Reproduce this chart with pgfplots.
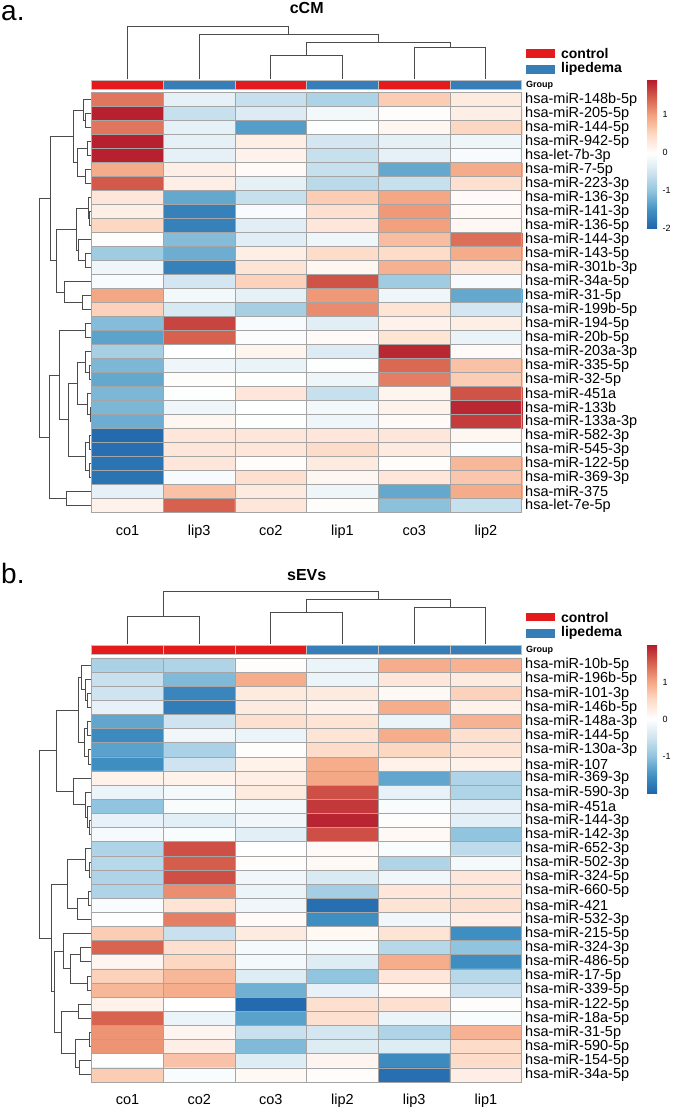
\documentclass[border=0pt]{standalone}
\usepackage{pgfplots}
\usepackage{pgfplotstable}
\pgfplotsset{compat=1.18}
\usepackage{fontspec}
\setmainfont{Liberation Sans}

\definecolor{ctrl}{RGB}{228,26,28}
\definecolor{lipe}{RGB}{55,126,184}
\definecolor{dendro}{RGB}{75,75,75}
\definecolor{cellline}{RGB}{165,165,165}

\pgfplotsset{
  colormap={rdbu}{rgb255=(33,102,172) rgb255=(67,147,195) rgb255=(146,197,222)
    rgb255=(209,229,240) rgb255=(255,255,255) rgb255=(253,219,199)
    rgb255=(244,165,130) rgb255=(214,96,77) rgb255=(178,24,43)},
  heat/.style={
    scale only axis, width=430pt,
    xmin=0, xmax=6, ymin=0, ymax=30, y dir=reverse,
    clip=false, axis on top,
    colormap name=rdbu,
    xtick={0.5,1.5,...,5.5}, ytick={0.5,1.5,...,29.5},
    minor xtick={0,1,...,6}, minor ytick={0,1,...,30},
    grid=minor, minor grid style={cellline, line width=0.7pt},
    axis line style={cellline, line width=0.7pt},
    major tick length=0pt, minor tick length=0pt,
    yticklabel pos=right,
    ticklabel style={font=\fontsize{14.5}{14.5}\selectfont},
    xticklabel style={anchor=base, yshift=-22.5pt},
    title style={font=\bfseries\fontsize{16}{16}\selectfont, at={(0.5,1)}, anchor=base},
    colorbar,
  },
  cbar/.style={
    at={(parent axis.north east)}, anchor=north west,
    scale only axis, width=10pt, height=149pt,
    axis line style={draw=none}, major tick length=0pt,
    yticklabel style={font=\fontsize{9}{9}\selectfont, xshift=2pt},
  },
  dend/.style={draw=dendro, line width=1pt, forget plot},
  grp/.style={draw=black!25, line width=0.5pt, forget plot},
}

% cCM: columns co1 lip3 co2 lip1 co3 lip2, rows top to bottom
\pgfplotstableread[row sep=\\]{
x y c \\
0.5 0.5 1.30 \\ 1.5 0.5 -0.30 \\ 2.5 0.5 -0.60 \\ 3.5 0.5 -0.80 \\ 4.5 0.5 0.60 \\ 5.5 0.5 0.25 \\
0.5 1.5 1.90 \\ 1.5 1.5 -0.60 \\ 2.5 1.5 -0.40 \\ 3.5 1.5 -0.15 \\ 4.5 1.5 0.00 \\ 5.5 1.5 0.20 \\
0.5 2.5 1.30 \\ 1.5 2.5 -0.30 \\ 2.5 2.5 -1.40 \\ 3.5 2.5 -0.05 \\ 4.5 2.5 0.10 \\ 5.5 2.5 0.50 \\
0.5 3.5 1.90 \\ 1.5 3.5 -0.30 \\ 2.5 3.5 0.20 \\ 3.5 3.5 -0.50 \\ 4.5 3.5 -0.30 \\ 5.5 3.5 -0.20 \\
0.5 4.5 1.90 \\ 1.5 4.5 -0.30 \\ 2.5 4.5 0.15 \\ 3.5 4.5 -0.60 \\ 4.5 4.5 -0.30 \\ 5.5 4.5 -0.10 \\
0.5 5.5 0.90 \\ 1.5 5.5 0.20 \\ 2.5 5.5 0.05 \\ 3.5 5.5 -0.60 \\ 4.5 5.5 -1.30 \\ 5.5 5.5 0.90 \\
0.5 6.5 1.50 \\ 1.5 6.5 0.20 \\ 2.5 6.5 -0.30 \\ 3.5 6.5 -0.70 \\ 4.5 6.5 -0.60 \\ 5.5 6.5 0.40 \\
0.5 7.5 0.30 \\ 1.5 7.5 -1.30 \\ 2.5 7.5 -0.60 \\ 3.5 7.5 0.60 \\ 4.5 7.5 0.95 \\ 5.5 7.5 0.05 \\
0.5 8.5 0.20 \\ 1.5 8.5 -1.70 \\ 2.5 8.5 -0.10 \\ 3.5 8.5 0.40 \\ 4.5 8.5 1.05 \\ 5.5 8.5 0.05 \\
0.5 9.5 0.50 \\ 1.5 9.5 -1.70 \\ 2.5 9.5 -0.35 \\ 3.5 9.5 0.30 \\ 4.5 9.5 1.00 \\ 5.5 9.5 0.08 \\
0.5 10.5 0.00 \\ 1.5 10.5 -1.10 \\ 2.5 10.5 -0.35 \\ 3.5 10.5 -0.20 \\ 4.5 10.5 0.75 \\ 5.5 10.5 1.35 \\
0.5 11.5 -0.90 \\ 1.5 11.5 -1.25 \\ 2.5 11.5 0.20 \\ 3.5 11.5 0.45 \\ 4.5 11.5 0.45 \\ 5.5 11.5 0.90 \\
0.5 12.5 -0.20 \\ 1.5 12.5 -1.70 \\ 2.5 12.5 0.35 \\ 3.5 12.5 0.10 \\ 4.5 12.5 0.85 \\ 5.5 12.5 0.35 \\
0.5 13.5 -0.10 \\ 1.5 13.5 -0.50 \\ 2.5 13.5 0.55 \\ 3.5 13.5 1.55 \\ 4.5 13.5 -0.90 \\ 5.5 13.5 -0.10 \\
0.5 14.5 0.95 \\ 1.5 14.5 -0.15 \\ 2.5 14.5 -0.30 \\ 3.5 14.5 1.05 \\ 4.5 14.5 -0.20 \\ 5.5 14.5 -1.30 \\
0.5 15.5 0.55 \\ 1.5 15.5 -0.45 \\ 2.5 15.5 -0.85 \\ 3.5 15.5 1.15 \\ 4.5 15.5 0.35 \\ 5.5 15.5 -0.50 \\
0.5 16.5 -1.10 \\ 1.5 16.5 1.65 \\ 2.5 16.5 -0.10 \\ 3.5 16.5 -0.35 \\ 4.5 16.5 0.15 \\ 5.5 16.5 0.20 \\
0.5 17.5 -1.35 \\ 1.5 17.5 1.45 \\ 2.5 17.5 -0.08 \\ 3.5 17.5 0.05 \\ 4.5 17.5 0.35 \\ 5.5 17.5 -0.25 \\
0.5 18.5 -0.85 \\ 1.5 18.5 -0.03 \\ 2.5 18.5 0.12 \\ 3.5 18.5 -0.40 \\ 4.5 18.5 1.85 \\ 5.5 18.5 0.05 \\
0.5 19.5 -1.15 \\ 1.5 19.5 -0.20 \\ 2.5 19.5 -0.25 \\ 3.5 19.5 -0.05 \\ 4.5 19.5 1.40 \\ 5.5 19.5 0.70 \\
0.5 20.5 -1.30 \\ 1.5 20.5 0.00 \\ 2.5 20.5 -0.05 \\ 3.5 20.5 -0.20 \\ 4.5 20.5 1.25 \\ 5.5 20.5 0.60 \\
0.5 21.5 -1.15 \\ 1.5 21.5 -0.05 \\ 2.5 21.5 0.30 \\ 3.5 21.5 -0.60 \\ 4.5 21.5 0.12 \\ 5.5 21.5 1.55 \\
0.5 22.5 -1.15 \\ 1.5 22.5 -0.20 \\ 2.5 22.5 -0.03 \\ 3.5 22.5 -0.15 \\ 4.5 22.5 0.15 \\ 5.5 22.5 1.85 \\
0.5 23.5 -1.25 \\ 1.5 23.5 0.10 \\ 2.5 23.5 -0.05 \\ 3.5 23.5 -0.20 \\ 4.5 23.5 0.05 \\ 5.5 23.5 1.70 \\
0.5 24.5 -1.95 \\ 1.5 24.5 0.30 \\ 2.5 24.5 0.30 \\ 3.5 24.5 0.30 \\ 4.5 24.5 0.30 \\ 5.5 24.5 0.10 \\
0.5 25.5 -1.90 \\ 1.5 25.5 0.30 \\ 2.5 25.5 0.30 \\ 3.5 25.5 0.45 \\ 4.5 25.5 0.25 \\ 5.5 25.5 -0.08 \\
0.5 26.5 -1.85 \\ 1.5 26.5 0.30 \\ 2.5 26.5 0.02 \\ 3.5 26.5 0.25 \\ 4.5 26.5 0.02 \\ 5.5 26.5 0.80 \\
0.5 27.5 -1.85 \\ 1.5 27.5 -0.10 \\ 2.5 27.5 0.40 \\ 3.5 27.5 0.10 \\ 4.5 27.5 0.30 \\ 5.5 27.5 0.65 \\
0.5 28.5 -0.30 \\ 1.5 28.5 0.70 \\ 2.5 28.5 0.25 \\ 3.5 28.5 -0.20 \\ 4.5 28.5 -1.30 \\ 5.5 28.5 0.90 \\
0.5 29.5 0.15 \\ 1.5 29.5 1.45 \\ 2.5 29.5 0.30 \\ 3.5 29.5 0.00 \\ 4.5 29.5 -1.05 \\ 5.5 29.5 -0.60 \\
}\cCMtab

% sEVs: columns co1 co2 co3 lip2 lip3 lip1, rows top to bottom
\pgfplotstableread[row sep=\\]{
x y c \\
0.5 0.5 -0.80 \\ 1.5 0.5 -0.75 \\ 2.5 0.5 0.05 \\ 3.5 0.5 -0.20 \\ 4.5 0.5 0.95 \\ 5.5 0.5 0.90 \\
0.5 1.5 -0.55 \\ 1.5 1.5 -1.10 \\ 2.5 1.5 0.95 \\ 3.5 1.5 -0.20 \\ 4.5 1.5 0.35 \\ 5.5 1.5 0.30 \\
0.5 2.5 -0.50 \\ 1.5 2.5 -1.65 \\ 2.5 2.5 0.30 \\ 3.5 2.5 0.30 \\ 4.5 2.5 0.10 \\ 5.5 2.5 0.60 \\
0.5 3.5 -0.25 \\ 1.5 3.5 -1.75 \\ 2.5 3.5 0.30 \\ 3.5 3.5 0.20 \\ 4.5 3.5 0.95 \\ 5.5 3.5 0.20 \\
0.5 4.5 -1.30 \\ 1.5 4.5 -0.50 \\ 2.5 4.5 0.45 \\ 3.5 4.5 0.40 \\ 4.5 4.5 -0.20 \\ 5.5 4.5 0.90 \\
0.5 5.5 -1.60 \\ 1.5 5.5 -0.15 \\ 2.5 5.5 -0.20 \\ 3.5 5.5 0.40 \\ 4.5 5.5 0.95 \\ 5.5 5.5 0.45 \\
0.5 6.5 -1.35 \\ 1.5 6.5 -0.80 \\ 2.5 6.5 0.05 \\ 3.5 6.5 0.50 \\ 4.5 6.5 0.55 \\ 5.5 6.5 0.40 \\
0.5 7.5 -1.55 \\ 1.5 7.5 -0.50 \\ 2.5 7.5 0.20 \\ 3.5 7.5 0.95 \\ 4.5 7.5 0.20 \\ 5.5 7.5 0.20 \\
0.5 8.5 0.20 \\ 1.5 8.5 0.20 \\ 2.5 8.5 0.25 \\ 3.5 8.5 1.00 \\ 4.5 8.5 -1.30 \\ 5.5 8.5 -0.75 \\
0.5 9.5 -0.20 \\ 1.5 9.5 -0.10 \\ 2.5 9.5 0.30 \\ 3.5 9.5 1.65 \\ 4.5 9.5 -0.25 \\ 5.5 9.5 -0.75 \\
0.5 10.5 -1.00 \\ 1.5 10.5 -0.05 \\ 2.5 10.5 -0.10 \\ 3.5 10.5 1.80 \\ 4.5 10.5 -0.05 \\ 5.5 10.5 -0.25 \\
0.5 11.5 -0.25 \\ 1.5 11.5 -0.30 \\ 2.5 11.5 -0.15 \\ 3.5 11.5 1.95 \\ 4.5 11.5 0.05 \\ 5.5 11.5 -0.30 \\
0.5 12.5 -0.08 \\ 1.5 12.5 -0.05 \\ 2.5 12.5 -0.30 \\ 3.5 12.5 1.65 \\ 4.5 12.5 0.10 \\ 5.5 12.5 -1.00 \\
0.5 13.5 -0.75 \\ 1.5 13.5 1.65 \\ 2.5 13.5 0.02 \\ 3.5 13.5 0.08 \\ 4.5 13.5 -0.05 \\ 5.5 13.5 -0.65 \\
0.5 14.5 -0.70 \\ 1.5 14.5 1.55 \\ 2.5 14.5 0.05 \\ 3.5 14.5 0.10 \\ 4.5 14.5 -0.75 \\ 5.5 14.5 -0.10 \\
0.5 15.5 -0.75 \\ 1.5 15.5 1.65 \\ 2.5 15.5 -0.15 \\ 3.5 15.5 -0.40 \\ 4.5 15.5 -0.15 \\ 5.5 15.5 0.35 \\
0.5 16.5 -0.75 \\ 1.5 16.5 1.20 \\ 2.5 16.5 -0.20 \\ 3.5 16.5 -0.85 \\ 4.5 16.5 0.35 \\ 5.5 16.5 0.40 \\
0.5 17.5 -0.05 \\ 1.5 17.5 0.40 \\ 2.5 17.5 -0.15 \\ 3.5 17.5 -1.90 \\ 4.5 17.5 0.40 \\ 5.5 17.5 0.45 \\
0.5 18.5 0.00 \\ 1.5 18.5 1.30 \\ 2.5 18.5 0.08 \\ 3.5 18.5 -1.55 \\ 4.5 18.5 -0.15 \\ 5.5 18.5 0.25 \\
0.5 19.5 0.65 \\ 1.5 19.5 -0.55 \\ 2.5 19.5 0.30 \\ 3.5 19.5 0.12 \\ 4.5 19.5 0.40 \\ 5.5 19.5 -1.55 \\
0.5 20.5 1.50 \\ 1.5 20.5 0.45 \\ 2.5 20.5 -0.10 \\ 3.5 20.5 -0.10 \\ 4.5 20.5 -0.70 \\ 5.5 20.5 -1.00 \\
0.5 21.5 0.15 \\ 1.5 21.5 0.55 \\ 2.5 21.5 -0.10 \\ 3.5 21.5 -0.35 \\ 4.5 21.5 0.95 \\ 5.5 21.5 -1.55 \\
0.5 22.5 0.60 \\ 1.5 22.5 0.85 \\ 2.5 22.5 -0.35 \\ 3.5 22.5 -1.00 \\ 4.5 22.5 0.35 \\ 5.5 22.5 -0.70 \\
0.5 23.5 0.85 \\ 1.5 23.5 0.95 \\ 2.5 23.5 -1.20 \\ 3.5 23.5 -0.25 \\ 4.5 23.5 0.10 \\ 5.5 23.5 -0.50 \\
0.5 24.5 0.20 \\ 1.5 24.5 0.02 \\ 2.5 24.5 -1.95 \\ 3.5 24.5 0.45 \\ 4.5 24.5 0.45 \\ 5.5 24.5 0.05 \\
0.5 25.5 1.50 \\ 1.5 25.5 -0.20 \\ 2.5 25.5 -1.35 \\ 3.5 25.5 0.45 \\ 4.5 25.5 -0.20 \\ 5.5 25.5 -0.05 \\
0.5 26.5 1.15 \\ 1.5 26.5 0.15 \\ 2.5 26.5 -0.55 \\ 3.5 26.5 -0.45 \\ 4.5 26.5 -0.75 \\ 5.5 26.5 0.90 \\
0.5 27.5 1.15 \\ 1.5 27.5 0.25 \\ 2.5 27.5 -1.10 \\ 3.5 27.5 -0.35 \\ 4.5 27.5 -0.35 \\ 5.5 27.5 0.50 \\
0.5 28.5 0.00 \\ 1.5 28.5 0.75 \\ 2.5 28.5 -0.35 \\ 3.5 28.5 0.15 \\ 4.5 28.5 -1.60 \\ 5.5 28.5 0.50 \\
0.5 29.5 0.65 \\ 1.5 29.5 -0.05 \\ 2.5 29.5 0.10 \\ 3.5 29.5 0.05 \\ 4.5 29.5 -1.90 \\ 5.5 29.5 0.25 \\
}\sEVtab

\begin{document}
\begin{tikzpicture}
\path[use as bounding box] (0,0) rectangle (673pt,-1109pt);
\node[anchor=base west, inner sep=0pt, font=\fontsize{28}{28}\selectfont] at (1pt,-20pt) {a.};
\node[anchor=base west, inner sep=0pt, font=\fontsize{28}{28}\selectfont] at (1pt,-583pt) {b.};

% ---------------- panel a: cCM ----------------
\begin{axis}[heat, at={(91.7pt,-92.7pt)}, anchor=north west, height=420pt,
    point meta min=-2, point meta max=1.95,
    title={cCM}, title style={yshift=73.4pt},
    xticklabels={co1,lip3,co2,lip1,co3,lip2},
    yticklabels={hsa-miR-148b-5p,hsa-miR-205-5p,hsa-miR-144-5p,hsa-miR-942-5p,hsa-let-7b-3p,
      hsa-miR-7-5p,hsa-miR-223-3p,hsa-miR-136-3p,hsa-miR-141-3p,hsa-miR-136-5p,
      hsa-miR-144-3p,hsa-miR-143-5p,hsa-miR-301b-3p,hsa-miR-34a-5p,hsa-miR-31-5p,
      hsa-miR-199b-5p,hsa-miR-194-5p,hsa-miR-20b-5p,hsa-miR-203a-3p,hsa-miR-335-5p,
      hsa-miR-32-5p,hsa-miR-451a,hsa-miR-133b,hsa-miR-133a-3p,hsa-miR-582-3p,
      hsa-miR-545-3p,hsa-miR-122-5p,hsa-miR-369-3p,hsa-miR-375,hsa-let-7e-5p},
    colorbar style={cbar, xshift=116.8pt, yshift=13.7pt,
      ytick={-2,-1,0,1}, yticklabels={-2,-1,0,1}},
  ]
  \addplot[matrix plot*, mesh/cols=6, point meta=explicit, forget plot]
    table[x=x, y=y, meta=c] {\cCMtab};

  % group bar
  \addplot[grp, fill=ctrl] coordinates {(0,-0.907) (1,-0.907) (1,-0.243) (0,-0.243)} -- cycle;
  \addplot[grp, fill=lipe] coordinates {(1,-0.907) (2,-0.907) (2,-0.243) (1,-0.243)} -- cycle;
  \addplot[grp, fill=ctrl] coordinates {(2,-0.907) (3,-0.907) (3,-0.243) (2,-0.243)} -- cycle;
  \addplot[grp, fill=lipe] coordinates {(3,-0.907) (4,-0.907) (4,-0.243) (3,-0.243)} -- cycle;
  \addplot[grp, fill=ctrl] coordinates {(4,-0.907) (5,-0.907) (5,-0.243) (4,-0.243)} -- cycle;
  \addplot[grp, fill=lipe] coordinates {(5,-0.907) (6,-0.907) (6,-0.243) (5,-0.243)} -- cycle;
  \node[anchor=west, inner sep=0pt, xshift=4.3pt, font=\bfseries\fontsize{9}{9}\selectfont] at (axis cs:6,-0.55) {Group};

  % legend
  \addplot[draw=none, fill=ctrl, forget plot] coordinates {(6.06,-3.157) (6.464,-3.157) (6.464,-2.514) (6.06,-2.514)} -- cycle;
  \addplot[draw=none, fill=lipe, forget plot] coordinates {(6.06,-2.014) (6.464,-2.014) (6.464,-1.371) (6.06,-1.371)} -- cycle;
  \node[anchor=west, inner sep=0pt, xshift=6pt, font=\bfseries\fontsize{14}{14}\selectfont] at (axis cs:6.464,-2.836) {control};
  \node[anchor=west, inner sep=0pt, xshift=6pt, font=\bfseries\fontsize{14}{14}\selectfont] at (axis cs:6.464,-1.693) {lipedema};

  % column dendrogram
  \addplot[dend] coordinates {(2.5,-0.95) (2.5,-2.693) (3.5,-2.693) (3.5,-0.95)};
  \addplot[dend] coordinates {(4.5,-0.95) (4.5,-3.214) (5.5,-3.214) (5.5,-0.95)};
  \addplot[dend] coordinates {(3.0,-2.693) (3.0,-3.6) (5.0,-3.6) (5.0,-3.214)};
  \addplot[dend] coordinates {(1.5,-0.95) (1.5,-4.171) (4.0,-4.171) (4.0,-3.6)};
  \addplot[dend] coordinates {(0.5,-0.95) (0.5,-4.714) (2.75,-4.714) (2.75,-4.171)};

  % row dendrogram
  \addplot[dend] coordinates {(-0.015,1.5) (-0.080,1.5) (-0.080,2.5) (-0.015,2.5)};
  \addplot[dend] coordinates {(-0.015,0.5) (-0.117,0.5) (-0.117,2.0) (-0.080,2.0)};
  \addplot[dend] coordinates {(-0.015,3.5) (-0.061,3.5) (-0.061,4.5) (-0.015,4.5)};
  \addplot[dend] coordinates {(-0.015,5.5) (-0.080,5.5) (-0.080,6.5) (-0.015,6.5)};
  \addplot[dend] coordinates {(-0.061,4.0) (-0.201,4.0) (-0.201,6.0) (-0.080,6.0)};
  \addplot[dend] coordinates {(-0.117,1.25) (-0.247,1.25) (-0.247,5.0) (-0.201,5.0)};
  \addplot[dend] coordinates {(-0.015,8.5) (-0.024,8.5) (-0.024,9.5) (-0.015,9.5)};
  \addplot[dend] coordinates {(-0.015,7.5) (-0.047,7.5) (-0.047,9.0) (-0.024,9.0)};
  \addplot[dend] coordinates {(-0.015,11.5) (-0.080,11.5) (-0.080,12.5) (-0.015,12.5)};
  \addplot[dend] coordinates {(-0.015,10.5) (-0.187,10.5) (-0.187,12.0) (-0.080,12.0)};
  \addplot[dend] coordinates {(-0.047,8.25) (-0.219,8.25) (-0.219,11.25) (-0.187,11.25)};
  \addplot[dend] coordinates {(-0.015,14.5) (-0.126,14.5) (-0.126,15.5) (-0.015,15.5)};
  \addplot[dend] coordinates {(-0.015,13.5) (-0.386,13.5) (-0.386,15.0) (-0.126,15.0)};
  \addplot[dend] coordinates {(-0.219,9.75) (-0.488,9.75) (-0.488,14.25) (-0.386,14.25)};
  \addplot[dend] coordinates {(-0.247,3.125) (-0.568,3.125) (-0.568,12.0) (-0.488,12.0)};
  \addplot[dend] coordinates {(-0.015,16.5) (-0.080,16.5) (-0.080,17.5) (-0.015,17.5)};
  \addplot[dend] coordinates {(-0.015,19.5) (-0.024,19.5) (-0.024,20.5) (-0.015,20.5)};
  \addplot[dend] coordinates {(-0.015,18.5) (-0.080,18.5) (-0.080,20.0) (-0.024,20.0)};
  \addplot[dend] coordinates {(-0.015,22.5) (-0.020,22.5) (-0.020,23.5) (-0.015,23.5)};
  \addplot[dend] coordinates {(-0.015,21.5) (-0.061,21.5) (-0.061,23.0) (-0.020,23.0)};
  \addplot[dend] coordinates {(-0.080,19.25) (-0.201,19.25) (-0.201,22.25) (-0.061,22.25)};
  \addplot[dend] coordinates {(-0.015,24.5) (-0.033,24.5) (-0.033,25.5) (-0.015,25.5)};
  \addplot[dend] coordinates {(-0.015,26.5) (-0.033,26.5) (-0.033,27.5) (-0.015,27.5)};
  \addplot[dend] coordinates {(-0.033,25.0) (-0.093,25.0) (-0.093,27.0) (-0.033,27.0)};
  \addplot[dend] coordinates {(-0.201,20.75) (-0.326,20.75) (-0.326,26.0) (-0.093,26.0)};
  \addplot[dend] coordinates {(-0.080,17.0) (-0.452,17.0) (-0.452,23.375) (-0.326,23.375)};
  \addplot[dend] coordinates {(-0.015,28.5) (-0.349,28.5) (-0.349,29.5) (-0.015,29.5)};
  \addplot[dend] coordinates {(-0.452,20.1875) (-0.582,20.1875) (-0.582,29.0) (-0.349,29.0)};
  \addplot[dend] coordinates {(-0.568,7.5625) (-0.731,7.5625) (-0.731,24.594) (-0.582,24.594)};
\end{axis}

% ---------------- panel b: sEVs ----------------
\begin{axis}[heat, at={(91.7pt,-658pt)}, anchor=north west, height=424pt,
    point meta min=-2, point meta max=2.03,
    title={sEVs}, title style={yshift=71.3pt},
    xticklabels={co1,co2,co3,lip2,lip3,lip1},
    yticklabels={hsa-miR-10b-5p,hsa-miR-196b-5p,hsa-miR-101-3p,hsa-miR-146b-5p,hsa-miR-148a-3p,
      hsa-miR-144-5p,hsa-miR-130a-3p,hsa-miR-107,hsa-miR-369-3p,hsa-miR-590-3p,
      hsa-miR-451a,hsa-miR-144-3p,hsa-miR-142-3p,hsa-miR-652-3p,hsa-miR-502-3p,
      hsa-miR-324-5p,hsa-miR-660-5p,hsa-miR-421,hsa-miR-532-3p,hsa-miR-215-5p,
      hsa-miR-324-3p,hsa-miR-486-5p,hsa-miR-17-5p,hsa-miR-339-5p,hsa-miR-122-5p,
      hsa-miR-18a-5p,hsa-miR-31-5p,hsa-miR-590-5p,hsa-miR-154-5p,hsa-miR-34a-5p},
    colorbar style={cbar, xshift=116.8pt, yshift=14pt,
      ytick={-1,0,1}, yticklabels={-1,0,1}},
  ]
  \addplot[matrix plot*, mesh/cols=6, point meta=explicit, forget plot]
    table[x=x, y=y, meta=c] {\sEVtab};

  % group bar
  \addplot[grp, fill=ctrl] coordinates {(0,-0.92) (1,-0.92) (1,-0.262) (0,-0.262)} -- cycle;
  \addplot[grp, fill=ctrl] coordinates {(1,-0.92) (2,-0.92) (2,-0.262) (1,-0.262)} -- cycle;
  \addplot[grp, fill=ctrl] coordinates {(2,-0.92) (3,-0.92) (3,-0.262) (2,-0.262)} -- cycle;
  \addplot[grp, fill=lipe] coordinates {(3,-0.92) (4,-0.92) (4,-0.262) (3,-0.262)} -- cycle;
  \addplot[grp, fill=lipe] coordinates {(4,-0.92) (5,-0.92) (5,-0.262) (4,-0.262)} -- cycle;
  \addplot[grp, fill=lipe] coordinates {(5,-0.92) (6,-0.92) (6,-0.262) (5,-0.262)} -- cycle;
  \node[anchor=west, inner sep=0pt, xshift=4.3pt, font=\bfseries\fontsize{9}{9}\selectfont] at (axis cs:6,-0.566) {Group};

  % legend
  \addplot[draw=none, fill=ctrl, forget plot] coordinates {(6.06,-3.22) (6.464,-3.22) (6.464,-2.584) (6.06,-2.584)} -- cycle;
  \addplot[draw=none, fill=lipe, forget plot] coordinates {(6.06,-2.087) (6.464,-2.087) (6.464,-1.451) (6.06,-1.451)} -- cycle;
  \node[anchor=west, inner sep=0pt, xshift=6pt, font=\bfseries\fontsize{14}{14}\selectfont] at (axis cs:6.464,-2.902) {control};
  \node[anchor=west, inner sep=0pt, xshift=6pt, font=\bfseries\fontsize{14}{14}\selectfont] at (axis cs:6.464,-1.769) {lipedema};

  % column dendrogram
  \addplot[dend] coordinates {(0.5,-0.97) (0.5,-2.923) (1.5,-2.923) (1.5,-0.97)};
  \addplot[dend] coordinates {(2.5,-0.97) (2.5,-3.206) (3.5,-3.206) (3.5,-0.97)};
  \addplot[dend] coordinates {(4.5,-0.97) (4.5,-3.56) (5.5,-3.56) (5.5,-0.97)};
  \addplot[dend] coordinates {(3.0,-3.206) (3.0,-4.154) (5.0,-4.154) (5.0,-3.56)};
  \addplot[dend] coordinates {(1.0,-2.923) (1.0,-4.692) (4.0,-4.692) (4.0,-4.154)};

  % row dendrogram
  \addplot[dend] coordinates {(-0.015,2.5) (-0.061,2.5) (-0.061,3.5) (-0.015,3.5)};
  \addplot[dend] coordinates {(-0.015,1.5) (-0.093,1.5) (-0.093,3.0) (-0.061,3.0)};
  \addplot[dend] coordinates {(-0.015,0.5) (-0.140,0.5) (-0.140,2.25) (-0.093,2.25)};
  \addplot[dend] coordinates {(-0.015,4.5) (-0.061,4.5) (-0.061,5.5) (-0.015,5.5)};
  \addplot[dend] coordinates {(-0.015,6.5) (-0.047,6.5) (-0.047,7.5) (-0.015,7.5)};
  \addplot[dend] coordinates {(-0.061,5.0) (-0.107,5.0) (-0.107,7.0) (-0.047,7.0)};
  \addplot[dend] coordinates {(-0.140,1.375) (-0.187,1.375) (-0.187,6.0) (-0.107,6.0)};
  \addplot[dend] coordinates {(-0.015,11.5) (-0.033,11.5) (-0.033,12.5) (-0.015,12.5)};
  \addplot[dend] coordinates {(-0.015,10.5) (-0.061,10.5) (-0.061,12.0) (-0.033,12.0)};
  \addplot[dend] coordinates {(-0.015,9.5) (-0.093,9.5) (-0.093,11.25) (-0.061,11.25)};
  \addplot[dend] coordinates {(-0.015,8.5) (-0.247,8.5) (-0.247,10.375) (-0.093,10.375)};
  \addplot[dend] coordinates {(-0.187,3.6875) (-0.498,3.6875) (-0.498,9.4375) (-0.247,9.4375)};
  \addplot[dend] coordinates {(-0.015,14.5) (-0.033,14.5) (-0.033,15.5) (-0.015,15.5)};
  \addplot[dend] coordinates {(-0.015,13.5) (-0.080,13.5) (-0.080,15.0) (-0.033,15.0)};
  \addplot[dend] coordinates {(-0.015,16.5) (-0.047,16.5) (-0.047,17.5) (-0.015,17.5)};
  \addplot[dend] coordinates {(-0.047,17.0) (-0.201,17.0) (-0.201,18.5) (-0.015,18.5)};
  \addplot[dend] coordinates {(-0.080,14.25) (-0.340,14.25) (-0.340,17.75) (-0.201,17.75)};
  \addplot[dend] coordinates {(-0.015,22.5) (-0.061,22.5) (-0.061,23.5) (-0.015,23.5)};
  \addplot[dend] coordinates {(-0.015,20.5) (-0.163,20.5) (-0.163,21.5) (-0.015,21.5)};
  \addplot[dend] coordinates {(-0.163,21.0) (-0.293,21.0) (-0.293,23.0) (-0.061,23.0)};
  \addplot[dend] coordinates {(-0.015,19.5) (-0.396,19.5) (-0.396,22.0) (-0.293,22.0)};
  \addplot[dend] coordinates {(-0.015,24.5) (-0.187,24.5) (-0.187,25.5) (-0.015,25.5)};
  \addplot[dend] coordinates {(-0.015,26.5) (-0.025,26.5) (-0.025,27.5) (-0.015,27.5)};
  \addplot[dend] coordinates {(-0.015,28.5) (-0.173,28.5) (-0.173,29.5) (-0.015,29.5)};
  \addplot[dend] coordinates {(-0.025,27.0) (-0.233,27.0) (-0.233,29.0) (-0.173,29.0)};
  \addplot[dend] coordinates {(-0.187,25.0) (-0.419,25.0) (-0.419,28.0) (-0.233,28.0)};
  \addplot[dend] coordinates {(-0.396,20.75) (-0.526,20.75) (-0.526,26.5) (-0.419,26.5)};
  \addplot[dend] coordinates {(-0.340,16.0) (-0.558,16.0) (-0.558,23.625) (-0.526,23.625)};
  \addplot[dend] coordinates {(-0.498,6.5625) (-0.731,6.5625) (-0.731,19.8125) (-0.558,19.8125)};
\end{axis}
\end{tikzpicture}
\end{document}
